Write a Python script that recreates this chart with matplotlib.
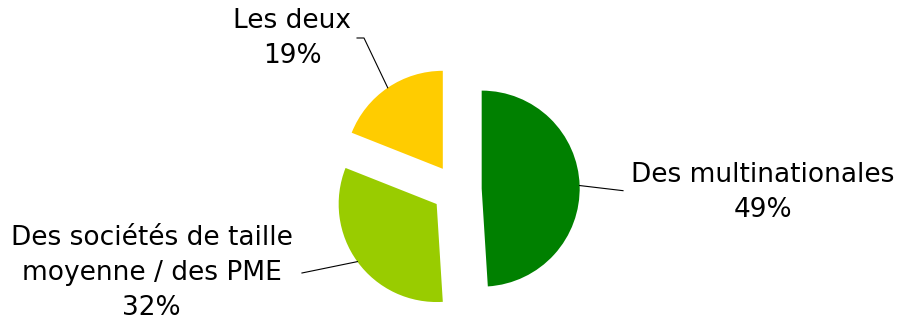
import matplotlib.pyplot as plt
import numpy as np

labels = ["Des multinationales", "Des sociétés de taille\nmoyenne / des PME", "Les deux"]
values = [49, 32, 19]
colors = ["#008000", "#99CC00", "#FFCC00"]

explode = 0.254
fig = plt.figure(figsize=(8.99, 3.2), dpi=100)
ax = fig.add_axes([0, 0, 1, 1])
wedges, _ = ax.pie(values, colors=colors, startangle=90, counterclock=False,
                   explode=[explode] * 3, radius=1, center=(0, 0), frame=True)
# pie centre at (456.8, 189.4) px, radius 98 px
ax.set_xlim(-456.8 / 98, (899 - 456.8) / 98)
ax.set_ylim(-(320 - 189.4) / 98, 189.4 / 98)
ax.set_aspect("auto")
ax.axis("off")

# label positions (centre x, last-line baseline) and leader points near the text
text_pos = [(3.124, -0.282), (-3.115, -1.282), (-1.679, 1.290)]
line_ends = [[(1.696, -0.013)], [(-1.580, -0.853)], [(-1.018, 1.545), (-0.947, 1.545)]]

for w, lab, v, tp, le in zip(wedges, labels, values, text_pos, line_ends):
    mid = np.deg2rad((w.theta1 + w.theta2) / 2)
    r = 1 + explode
    ex, ey = r * np.cos(mid), r * np.sin(mid)
    xs = [p[0] for p in le] + [ex]
    ys = [p[1] for p in le] + [ey]
    ax.plot(xs, ys, color="black", lw=0.8)
    ax.text(tp[0], tp[1], f"{lab}\n{v}%", ha="center", va="baseline",
            multialignment="center", fontsize=19, linespacing=1.45,
            family="DejaVu Sans", color="black")

fig.savefig("out.png", dpi=100)
